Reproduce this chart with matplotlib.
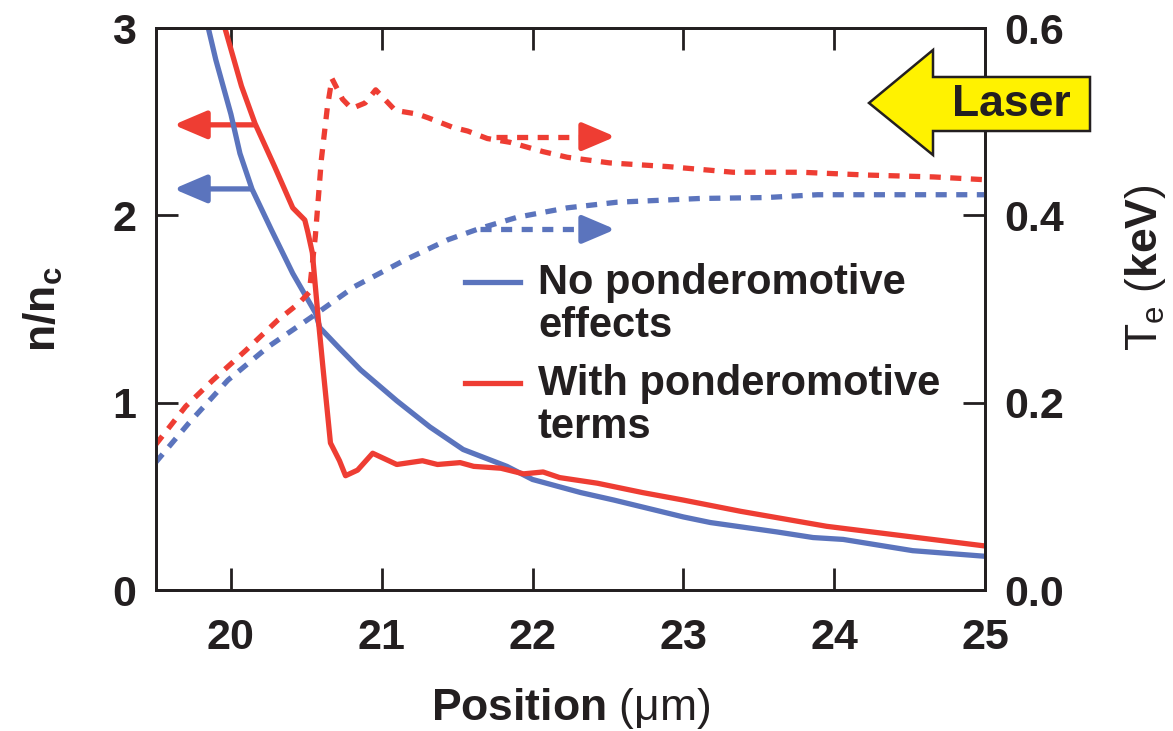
import matplotlib
matplotlib.use("Agg")
import matplotlib.pyplot as plt
from matplotlib.patches import Polygon, FancyArrowPatch, ArrowStyle

plt.rcParams['font.family'] = ['Liberation Sans', 'DejaVu Sans']
plt.rcParams['mathtext.fontset'] = 'custom'
plt.rcParams['mathtext.rm'] = 'Liberation Sans'
plt.rcParams['mathtext.bf'] = 'Liberation Sans:bold'
plt.rcParams['mathtext.it'] = 'Liberation Sans:italic'

# Density n/n_c
pos_n_blue = [19.85, 19.9, 20.0, 20.06, 20.14, 20.27, 20.41, 20.56, 20.59, 20.72, 20.86,
              21.1, 21.32, 21.54, 21.83, 22.0, 22.32, 22.54, 23.0, 23.18, 23.62, 23.86,
              24.06, 24.52, 25.0]
n_blue = [3.0, 2.83, 2.54, 2.33, 2.14, 1.92, 1.69, 1.48, 1.40, 1.29, 1.175,
          1.01, 0.87, 0.75, 0.66, 0.59, 0.52, 0.48, 0.39, 0.36, 0.31, 0.28,
          0.27, 0.21, 0.18]

pos_n_red = [19.96, 20.07, 20.16, 20.29, 20.41, 20.49, 20.51, 20.54, 20.56, 20.58, 20.61,
             20.66, 20.72, 20.76, 20.84, 20.94, 21.1, 21.27, 21.37, 21.52, 21.61, 21.79,
             21.94, 22.07, 22.18, 22.43, 22.73, 23.0, 23.38, 23.95, 24.55, 25.0]
n_red = [3.0, 2.69, 2.49, 2.26, 2.04, 1.975, 1.91, 1.80, 1.62, 1.44, 1.19,
         0.785, 0.69, 0.61, 0.64, 0.73, 0.67, 0.69, 0.67, 0.68, 0.66, 0.65,
         0.62, 0.63, 0.60, 0.57, 0.52, 0.48, 0.42, 0.34, 0.28, 0.235]

# Electron temperature T_e (keV)
pos_t_blue = [19.5, 19.72, 19.98, 20.25, 20.54, 20.82, 21.15, 21.44, 21.65, 21.9, 22.23,
              22.56, 23.11, 23.55, 23.89, 25.0]
t_blue = [0.136, 0.178, 0.224, 0.26, 0.292, 0.324, 0.352, 0.374, 0.386, 0.398, 0.408,
          0.414, 0.418, 0.419, 0.422, 0.422]

pos_t_red = [19.5, 19.7, 19.88, 20.1, 20.31, 20.45, 20.52, 20.56, 20.6, 20.64, 20.67,
             20.74, 20.8, 20.89, 20.96, 21.09, 21.24, 21.31, 21.47, 21.57, 21.7, 21.85,
             22.07, 22.23, 22.51, 22.9, 23.33, 23.78, 24.22, 24.66, 25.0]
t_red = [0.155, 0.196, 0.224, 0.256, 0.288, 0.306, 0.318, 0.378, 0.46, 0.516, 0.546,
         0.524, 0.514, 0.52, 0.534, 0.512, 0.508, 0.504, 0.494, 0.49, 0.482, 0.478,
         0.468, 0.462, 0.456, 0.452, 0.446, 0.446, 0.443, 0.441, 0.438]

x_ticks = [20, 21, 22, 23, 24, 25]
n_ticks = [0, 1, 2, 3]
t_ticks = [0.0, 0.2, 0.4, 0.6]
t_tick_labels = ['0.0', '0.2', '0.4', '0.6']

legend_labels = ['No ponderomotive\neffects', 'With ponderomotive\nterms']

BLUE = '#5b74bd'
RED = '#ee3d33'
INK = '#231f20'
W, H = 1173, 731

fig = plt.figure(figsize=(W / 100, H / 100), dpi=100)
ax = fig.add_axes([155.5 / W, 1 - 590 / H, (985 - 155.5) / W, (590 - 28) / H])
ax2 = ax.twinx()

lw = 3.8
dash = (0, (2.1, 1.8))
ax.plot(pos_n_blue, n_blue, color=BLUE, lw=lw, solid_joinstyle='round')
ax.plot(pos_n_red, n_red, color=RED, lw=lw, solid_joinstyle='round')
ax2.plot(pos_t_blue, t_blue, color=BLUE, lw=lw, linestyle=dash)
ax2.plot(pos_t_red, t_red, color=RED, lw=lw, linestyle=dash)

ax.set_xlim(19.5, 25)
ax.set_ylim(0, 3)
ax2.set_ylim(0, 0.6)
ax.set_xticks(x_ticks)
ax.set_yticks(n_ticks)
ax2.set_yticks(t_ticks)
ax2.set_yticklabels(t_tick_labels)

for a in (ax, ax2):
    for s in a.spines.values():
        s.set_linewidth(2.0)
        s.set_color(INK)
ax.tick_params(axis='both', direction='in', length=16, width=2.0, color=INK,
               labelsize=31, labelcolor=INK, top=True, right=False)
ax.tick_params(axis='x', pad=20)
ax.tick_params(axis='y', pad=14)
ax2.tick_params(axis='y', direction='in', length=16, width=2.0, color=INK,
                labelsize=31, labelcolor=INK, pad=14)
for lab in ax.get_xticklabels() + ax.get_yticklabels() + ax2.get_yticklabels():
    lab.set_fontweight('bold')

ax.set_xlabel(r'$\mathbf{Position}$ (μm)', fontsize=32, color=INK, labelpad=20)
ax.set_ylabel(r'$\mathbf{n/n_c}$', fontsize=32, color=INK, labelpad=34)
ax2.set_ylabel(r'T$_{\mathregular{e}}$ ($\mathbf{keV}$)', fontsize=32, color=INK)
ax2.yaxis.set_label_coords((1145 - 155.5) / 829.5, (590 - 268) / 562)
ax2.yaxis.label.set_verticalalignment('center')
ax2.yaxis.label.set_horizontalalignment('center')

# Direction arrows showing which axis each curve family belongs to
HEAD = ArrowStyle('-|>', head_length=20, head_width=8.5)
HEAD_DX = 27 / 150.8  # head length in position units


def axis_arrow(axis, x0, x1, y, color, dashed=False):
    if dashed:
        xb = x1 - HEAD_DX if x1 > x0 else x1 + HEAD_DX
        axis.plot([x0, xb], [y, y], color=color, lw=lw, linestyle=dash,
                  solid_capstyle='butt', dash_capstyle='butt')
        x0 = xb - (0.02 if x1 > x0 else -0.02)
    arr = FancyArrowPatch((x0, y), (x1, y), arrowstyle=HEAD, mutation_scale=1,
                          color=color, lw=lw, shrinkA=0, shrinkB=0, capstyle='butt')
    axis.add_patch(arr)


axis_arrow(ax, 20.17, 19.62, 2.483, RED)
axis_arrow(ax, 20.14, 19.62, 2.141, BLUE)
axis_arrow(ax2, 21.76, 22.55, 0.484, RED, dashed=True)
axis_arrow(ax2, 21.65, 22.55, 0.385, BLUE, dashed=True)

# Legend
for k, (lab, col) in enumerate(zip(legend_labels, [BLUE, RED])):
    yy = 1 - (282 + 101 * k) / H
    fig.add_artist(plt.Line2D([465 / W, 520 / W], [yy, yy], color=col, lw=lw))
    fig.text(538 / W, 1 - (263 + 101 * k) / H, lab, fontsize=30, fontweight='bold',
             color=INK, va='top', ha='left', linespacing=1.1)

# Laser arrow
pts_px = [(869, 103), (933, 50), (933, 77), (1090, 77), (1090, 131), (933, 131), (933, 155)]
pts = [(x / W, 1 - y / H) for x, y in pts_px]
fig.add_artist(Polygon(pts, closed=True, facecolor='#fff200', edgecolor=INK, lw=1.8,
                       transform=fig.transFigure, zorder=10))
fig.text(1011 / W, 1 - 104 / H, 'Laser', fontsize=32, fontweight='bold', color=INK,
         ha='center', va='center', zorder=11)

fig.savefig('out.png', dpi=100)
